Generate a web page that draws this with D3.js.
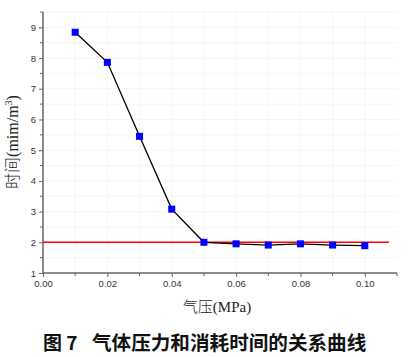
<!DOCTYPE html>
<html><head><meta charset="utf-8">
<script src="https://cdn.jsdelivr.net/npm/d3@7"></script>
<style>body{margin:0;background:#fff}svg{display:block}</style>
</head><body><svg id="c" width="408" height="357"></svg>
<script>
const pressure = [0.01,0.02,0.03,0.04,0.05,0.06,0.07,0.08,0.09,0.10];
const time = [8.84,7.86,5.45,3.08,2.0,1.95,1.91,1.95,1.91,1.89];
const refValue = 2;
const xTicks = [0,0.02,0.04,0.06,0.08,0.10];
const yTicks = [1,2,3,4,5,6,7,8,9];
const xLabelCJK = "气压", xLabelLatin = "(MPa)";
const yLabelCJK = "时间", yLabelLatin = "(mim/m";
const captionNum = "图 7", captionText = "气体压力和消耗时间的关系曲线";

const svg = d3.select("#c");
const L=43, R=397, T=12, B=273;
const x = d3.scaleLinear().domain([0,0.11]).range([L,R]);
const y = d3.scaleLinear().domain([1,9.5]).range([B,T]);
const serif = "Liberation Serif, Times New Roman, serif";
const cjk = "Noto Sans CJK SC, sans-serif";

// faint grid
const g0 = svg.append("g");
g0.selectAll("line.gx").data(d3.range(0.01,0.105,0.01)).join("line")
  .attr("x1",d=>x(d)).attr("x2",d=>x(d)).attr("y1",T).attr("y2",B)
  .attr("stroke","#f3f3f3").attr("stroke-width",0.8);
g0.selectAll("line.gy").data(d3.range(1.5,9.6,0.5)).join("line")
  .attr("x1",L).attr("x2",R).attr("y1",d=>y(d)).attr("y2",d=>y(d))
  .attr("stroke","#f3f3f3").attr("stroke-width",0.8);

// axes
const xAxis = d3.axisBottom(x).tickValues(xTicks).tickFormat(d3.format(".2f")).tickSize(4).tickSizeOuter(0);
const gx = svg.append("g").attr("transform",`translate(0,${B})`).call(xAxis);
const yAxis = d3.axisLeft(y).tickValues(yTicks).tickFormat(d3.format("d")).tickSize(4).tickSizeOuter(0);
const gy = svg.append("g").attr("transform",`translate(${L},0)`).call(yAxis);
[gx,gy].forEach(g=>{
  g.select(".domain").attr("stroke","#666").attr("stroke-width",1.5);
  g.selectAll(".tick line").attr("stroke","#666").attr("stroke-width",1);
  g.selectAll(".tick text").attr("fill","#333").attr("font-family","Liberation Sans, Arial, sans-serif").attr("font-size",9.5);
});
gx.select(".domain").attr("d",`M${L},0H${R}`);
gy.select(".domain").attr("d",`M0,${B}V${T}`);
// minor ticks
svg.append("g").selectAll("line").data([0.01,0.03,0.05,0.07,0.09,0.11]).join("line")
  .attr("x1",d=>x(d)).attr("x2",d=>x(d)).attr("y1",B).attr("y2",B+3).attr("stroke","#666");
svg.append("g").selectAll("line").data(d3.range(1.5,9.6,1)).join("line")
  .attr("x1",L-3).attr("x2",L).attr("y1",d=>y(d)).attr("y2",d=>y(d)).attr("stroke","#666");

// reference line
svg.append("line").attr("x1",x(0)).attr("x2",x(0.1075)).attr("y1",y(refValue)).attr("y2",y(refValue))
  .attr("stroke","#ff0000").attr("stroke-width",1.5);

// data line
svg.append("path").datum(pressure.map((p,i)=>[p,time[i]]))
  .attr("d",d3.line().x(d=>x(d[0])).y(d=>y(d[1])))
  .attr("fill","none").attr("stroke","#000").attr("stroke-width",1.3);
svg.append("g").selectAll("rect").data(pressure.map((p,i)=>[p,time[i]])).join("rect")
  .attr("x",d=>x(d[0])-3.5).attr("y",d=>y(d[1])-3.5).attr("width",7).attr("height",7)
  .attr("fill","#0000ff");

// x label
const xl = svg.append("text").attr("x",217).attr("y",312).attr("text-anchor","middle")
  .attr("font-size",15).attr("fill","#222");
xl.append("tspan").attr("font-family",cjk).attr("font-weight",300).text(xLabelCJK);
xl.append("tspan").attr("font-family",serif).text(xLabelLatin);

// y label
const yl = svg.append("text").attr("transform","translate(18,142) rotate(-90)").attr("text-anchor","middle")
  .attr("font-size",16).attr("fill","#222");
yl.append("tspan").attr("font-family",cjk).attr("font-weight",300).text(yLabelCJK);
yl.append("tspan").attr("font-family",serif).text(yLabelLatin);
yl.append("tspan").attr("font-family",serif).attr("font-size",10).attr("dy",-6).text("3");
yl.append("tspan").attr("font-family",serif).attr("dy",6).text(")");

// caption
svg.append("text").attr("x",43).attr("y",350).attr("font-family",cjk).attr("font-size",19)
  .attr("font-weight","bold").attr("fill","#111").text(captionNum);
svg.append("text").attr("x",92).attr("y",350).attr("font-family",cjk).attr("font-size",19.6)
  .attr("font-weight","bold").attr("fill","#111").text(captionText);
</script></body></html>
